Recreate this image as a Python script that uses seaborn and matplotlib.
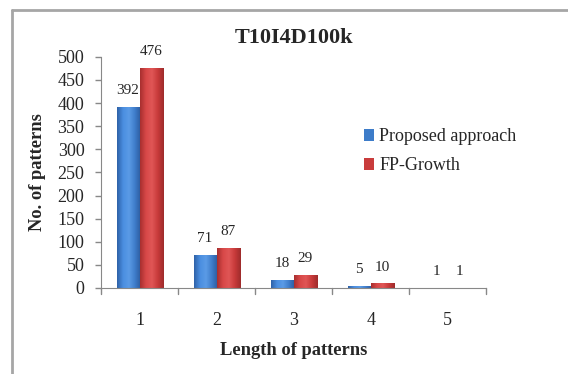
import numpy as np
import pandas as pd
import matplotlib
matplotlib.use("Agg")
import matplotlib.pyplot as plt
import seaborn as sns
from matplotlib.colors import LinearSegmentedColormap
from matplotlib.patches import Rectangle

categories = ["1", "2", "3", "4", "5"]
proposed = [392, 71, 18, 5, 1]
fp_growth = [476, 87, 29, 10, 1]
series_names = ["Proposed approach", "FP-Growth"]
yticks = list(range(0, 501, 50))

df = pd.DataFrame({
    "length": categories * 2,
    "count": proposed + fp_growth,
    "method": [series_names[0]] * len(categories) + [series_names[1]] * len(categories),
})

sns.set_style("white")
plt.rcParams["font.family"] = ["Liberation Serif", "DejaVu Serif"]

base_colors = {"Proposed approach": "#3d7cc9", "FP-Growth": "#c93c3c"}
grad_colors = {
    "Proposed approach": ["#2f62a8", "#4a8ee0", "#5b9be6", "#3f7dcb", "#2c5b9e"],
    "FP-Growth": ["#a82f2f", "#d84848", "#e05656", "#c83a3a", "#9e2c2c"],
}

fig = plt.figure(figsize=(5.68, 3.74), dpi=100)
ax = fig.add_axes([0.178, 0.230, 0.678, 0.618])

sns.barplot(data=df, x="length", y="count", hue="method", order=categories,
            hue_order=series_names, palette=base_colors, width=0.6,
            saturation=1, ax=ax, legend=False)

# shaded fill on each bar for a rounded look
grad = np.linspace(0, 1, 64).reshape(1, -1)
for container, name in zip(ax.containers, series_names):
    cmap = LinearSegmentedColormap.from_list(name, grad_colors[name])
    for patch in container.patches:
        x0, y0 = patch.get_x(), patch.get_y()
        w, h = patch.get_width(), patch.get_height()
        if h <= 0:
            continue
        im = ax.imshow(grad, cmap=cmap, aspect="auto",
                       extent=[x0, x0 + w, y0, y0 + h], zorder=patch.get_zorder() + 0.1)
        im.set_clip_path(patch)
        patch.set_edgecolor("none")

for container, vals in zip(ax.containers, [proposed, fp_growth]):
    for patch, v in zip(container.patches, vals):
        ax.annotate(str(v), (patch.get_x() + patch.get_width() / 2, v),
                    xytext=(0, 7), textcoords="offset points",
                    ha="center", va="bottom", fontsize=11)

ax.set_xlim(-0.5, len(categories) - 0.5)
ax.set_ylim(0, 500)
ax.set_yticks(yticks)
ax.set_yticklabels([str(t) for t in yticks], fontsize=13)
ax.set_xticks(range(len(categories)))
ax.set_xticklabels(categories, fontsize=13)
ax.tick_params(axis="x", length=0, pad=17)
ax.tick_params(axis="y", length=4, width=1, color="#888888", direction="out", left=True, pad=8)
for b in np.arange(-0.5, len(categories), 1.0):
    ax.plot([b, b], [0, -0.026], transform=ax.get_xaxis_transform(),
            color="#888888", lw=1, clip_on=False)

for s in ["top", "right"]:
    ax.spines[s].set_visible(False)
ax.spines["left"].set_color("#888888")
ax.spines["bottom"].set_color("#888888")

ax.set_title("T10I4D100k", fontsize=16, fontweight="bold", pad=10)
ax.set_xlabel("Length of patterns", fontsize=13.3, fontweight="bold", labelpad=10)
ax.set_ylabel("No. of patterns", fontsize=13.3, fontweight="bold", labelpad=8)

handles = [Rectangle((0, 0), 1, 1, facecolor=base_colors[n], edgecolor="none") for n in series_names]
fig.legend(handles, series_names, loc="upper left", bbox_to_anchor=(0.612, 0.70),
           frameon=False, fontsize=13, handlelength=0.55, handleheight=0.6,
           handletextpad=0.3, labelspacing=0.65)

# outer chart frame (left and top edges)
fig.add_artist(plt.Line2D([0.021, 0.021], [0.0, 0.974], color="#a6a6a6", lw=2, transform=fig.transFigure))
fig.add_artist(plt.Line2D([0.021, 1.0], [0.974, 0.974], color="#a6a6a6", lw=2, transform=fig.transFigure))

fig.savefig("out.png", dpi=100, facecolor="white")
